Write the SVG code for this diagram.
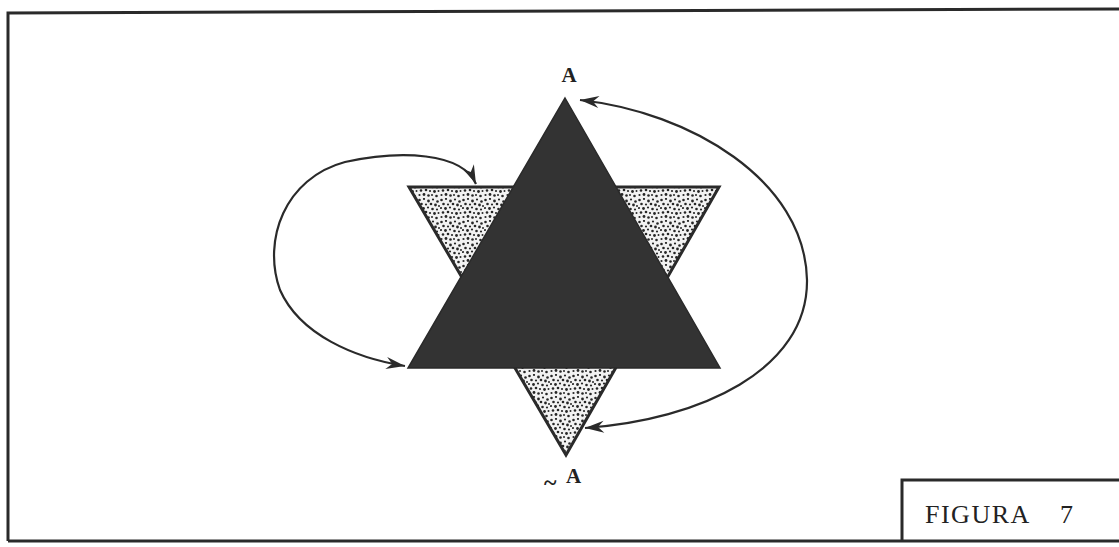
<svg xmlns="http://www.w3.org/2000/svg" width="1119" height="547" viewBox="0 0 1119 547">
<style>
.frame{stroke:#2a2a2a;stroke-width:3;fill:none}
.conn{stroke:#2a2a2a;stroke-width:2.2;fill:none}
.lbl{font-family:"Liberation Serif",serif;font-weight:bold;fill:#222}
.fig{font-family:"Liberation Serif",serif;fill:#222}
</style>
<defs>
<pattern id="stip" width="22" height="22" patternUnits="userSpaceOnUse">
<rect width="22" height="22" fill="#f2f2f2"/>
<g fill="#262626">
<circle cx="1.5" cy="2" r="1.3"/><circle cx="6" cy="1" r="1.1"/><circle cx="10.5" cy="3" r="1.4"/><circle cx="15" cy="1.5" r="1.1"/><circle cx="19.5" cy="3.5" r="1.3"/>
<circle cx="3.5" cy="6" r="1.3"/><circle cx="8" cy="6.5" r="1.1"/><circle cx="13" cy="6" r="1.3"/><circle cx="17.5" cy="7" r="1.4"/><circle cx="21" cy="8" r="1"/>
<circle cx="1" cy="10" r="1.1"/><circle cx="5.5" cy="10.5" r="1.4"/><circle cx="10" cy="9.5" r="1.1"/><circle cx="14.5" cy="11" r="1.3"/><circle cx="19" cy="11.5" r="1.1"/>
<circle cx="3" cy="14.5" r="1.3"/><circle cx="8" cy="14" r="1.3"/><circle cx="12" cy="15" r="1.1"/><circle cx="16.5" cy="15.5" r="1.4"/><circle cx="20.5" cy="15" r="1"/>
<circle cx="1.5" cy="19" r="1.1"/><circle cx="6" cy="18.5" r="1.4"/><circle cx="10.5" cy="19.5" r="1.3"/><circle cx="14" cy="19" r="1"/><circle cx="18.5" cy="20" r="1.3"/>
</g>
</pattern>
<marker id="arr" viewBox="-20 -7 22 14" markerWidth="22" markerHeight="14" refX="0" refY="0" orient="auto-start-reverse" markerUnits="userSpaceOnUse">
<path d="M0,0 L-19,-6 L-13,0 L-19,6 Z" fill="#2a2a2a"/>
</marker>
</defs>
<rect width="1119" height="547" fill="#fff"/>
<g id="frame">
<path class="frame" d="M8,541 L8,13 L1119,9"/>
<path class="frame" d="M8,541 L1119,541"/>
</g>
<g id="node-down-triangle">
<polygon points="409,187 719,187 566,455" fill="url(#stip)" stroke="#2a2a2a" stroke-width="3" stroke-linejoin="miter"/>
</g>
<g id="node-up-triangle">
<polygon points="565,98 720,368 408,368" fill="#333" stroke="#2a2a2a" stroke-width="1.5"/>
</g>
<g id="connectors">
<path class="conn" marker-start="url(#arr)" marker-end="url(#arr)" d="M476,184 C462,152 400,150 345,162 C285,178 262,240 280,290 C300,335 355,358 405,366"/>
<path class="conn" marker-start="url(#arr)" marker-end="url(#arr)" d="M580,100 C690,112 805,180 807,280 C808,370 700,420 585,428"/>
</g>
<g id="label-A">
<text class="lbl" x="569" y="82" font-size="21" text-anchor="middle">A</text>
</g>
<g id="label-notA">
<text class="lbl" x="544" y="490" font-size="24">~<tspan x="566" y="483" font-size="21">A</tspan></text>
</g>
<g id="figure-label">
<path class="frame" d="M902,541 L902,480 L1119,480"/>
<text class="fig" x="925" y="523" font-size="26" letter-spacing="1.5">FIGURA</text>
<text class="fig" x="1060" y="523" font-size="26">7</text>
</g>
</svg>
